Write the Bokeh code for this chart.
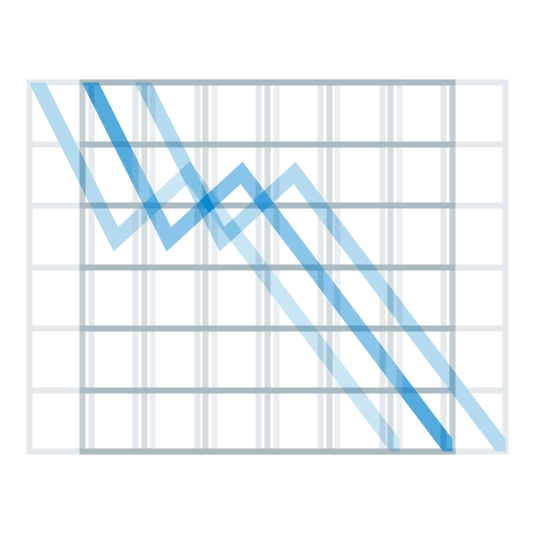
from bokeh.plotting import figure
from bokeh.layouts import column
from bokeh.models import FixedTicker, Range1d
from bokeh.embed import file_html
from bokeh.resources import INLINE

# data (chart units: 6 x 6 grid)
x_vals = [0.0, 1.4, 2.58, 6.0]
y_vals = [6.25, 3.45, 4.53, 0.0]
grid_ticks = [1, 2, 3, 4, 5]

LINE_COLOR = "#0A88D0"
GRID_COLOR = "#ABB9C1"

W, H = 409, 471


def make_chart(ghost):
    p = figure(width=W, height=H, output_backend="svg", toolbar_location=None,
               x_axis_location=None, y_axis_location=None,
               x_range=Range1d(0, 6), y_range=Range1d(0, 6),
               min_border_left=29, min_border_right=10,
               min_border_top=82, min_border_bottom=20)
    p.xgrid.ticker = FixedTicker(ticks=grid_ticks)
    p.ygrid.ticker = FixedTicker(ticks=grid_ticks)
    p.grid.grid_line_color = GRID_COLOR
    p.grid.grid_line_width = 6
    p.grid.grid_line_alpha = 1.0
    p.outline_line_color = GRID_COLOR
    p.outline_line_width = 6
    p.outline_line_alpha = 1.0
    p.outline_line_join = "miter"
    p.background_fill_color = "white"
    p.background_fill_alpha = 1.0
    p.border_fill_alpha = 0.0 if ghost else 1.0
    p.line(x_vals, y_vals, line_color=LINE_COLOR, line_width=15,
           line_join="miter", line_cap="butt")
    if ghost:
        p.styles = {"opacity": "0.3"}
    return p


main = make_chart(False)
left_ghost = make_chart(True)
right_ghost = make_chart(True)

main.margin = (0, 0, 0, 53)
left_ghost.margin = (-H, 0, 0, 0)
right_ghost.margin = (-H, 0, 0, 106)

layout = column(main, left_ghost, right_ghost)

open("out.html", "w").write(file_html(layout, INLINE))
